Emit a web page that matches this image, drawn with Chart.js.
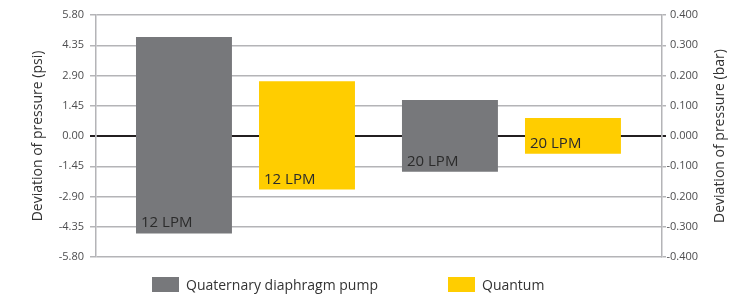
<!DOCTYPE html>
<html>
<head>
<meta charset="utf-8">
<script src="https://cdn.jsdelivr.net/npm/chart.js@4.4.1/dist/chart.umd.min.js"></script>
<style>
    html, body { margin: 0; padding: 0; background: #fff; }
    #wrap { position: relative; width: 741px; height: 296px; }
    #pressureChart { position: absolute; left: 0; top: 0; }
    .legend-item { position: absolute; top: 277px; height: 15px; display: flex; align-items: center;
        font-family: 'Open Sans', sans-serif; font-size: 14px; color: #333; white-space: nowrap; }
    .legend-box { width: 27px; height: 15px; margin-right: 7px; }
</style>
</head>
<body>
<div id="wrap">
    <canvas id="pressureChart" width="741" height="296"></canvas>
    <div id="chartLegend"></div>
</div>
<script>
// Data
const flowRates = ['12 LPM', '20 LPM'];
const groupPos = [0, 1];
const pumpLow = [-4.67, -1.71];
const pumpHigh = [4.74, 1.72];
const quantumLow = [-2.57, -0.85];
const quantumHigh = [2.63, 0.86];

const seriesNames = ['Quaternary diaphragm pump', 'Quantum'];
const seriesColors = ['#77787b', '#ffcd00'];

const psiTicks = [-5.80, -4.35, -2.90, -1.45, 0, 1.45, 2.90, 4.35, 5.80];
const psiLabels = ['-5.80', '-4.35', '-2.90', '-1.45', '0.00', '1.45', '2.90', '4.35', '5.80'];
const barTicks = [-0.4, -0.3, -0.2, -0.1, 0, 0.1, 0.2, 0.3, 0.4];
const barLabels = ['-0.400', '-0.300', '-0.200', '-0.100', '0.000', '0.100', '0.200', '0.300', '0.400'];

const gridGray = '#b4b4b7';
const zeroBlack = '#231f20';

Chart.defaults.font.family = "'Open Sans', sans-serif";

// Labels drawn at the lower-left corner of each bar
const barTextPlugin = {
    id: 'barText',
    afterDatasetsDraw(chart) {
        const ctx = chart.ctx;
        ctx.save();
        ctx.font = "15px 'Open Sans', sans-serif";
        ctx.fillStyle = '#2b2b2b';
        ctx.textAlign = 'left';
        ctx.textBaseline = 'alphabetic';
        chart.data.datasets.forEach((ds, di) => {
            const meta = chart.getDatasetMeta(di);
            meta.data.forEach((bar, i) => {
                const p = bar.getProps(['x', 'y', 'base', 'width'], true);
                const bottom = Math.max(p.y, p.base);
                ctx.fillText(flowRates[i], p.x - p.width / 2 + 5, bottom - 6);
            });
        });
        ctx.restore();
    }
};

// Right-hand title, reading bottom to top like the left one
const rightTitlePlugin = {
    id: 'rightTitle',
    afterDraw(chart) {
        const ctx = chart.ctx;
        const area = chart.chartArea;
        ctx.save();
        ctx.translate(720, (area.top + area.bottom) / 2);
        ctx.rotate(-Math.PI / 2);
        ctx.font = "14px 'Open Sans', sans-serif";
        ctx.fillStyle = '#333';
        ctx.textAlign = 'center';
        ctx.textBaseline = 'middle';
        ctx.fillText('Deviation of pressure (bar)', 0, 0);
        ctx.restore();
    }
};

const gridColor = c => (c.tick && c.tick.value === 0 ? zeroBlack : gridGray);
const gridWidth = c => (c.tick && c.tick.value === 0 ? 2 : 1.5);

new Chart(document.getElementById('pressureChart'), {
    type: 'bar',
    data: {
        datasets: [
            {
                label: seriesNames[0],
                data: groupPos.map((x, i) => ({ x: x, y: [pumpLow[i], pumpHigh[i]] })),
                backgroundColor: seriesColors[0],
                borderWidth: 0,
                categoryPercentage: 0.925,
                barPercentage: 0.78,
                yAxisID: 'y'
            },
            {
                label: seriesNames[1],
                data: groupPos.map((x, i) => ({ x: x, y: [quantumLow[i], quantumHigh[i]] })),
                backgroundColor: seriesColors[1],
                borderWidth: 0,
                categoryPercentage: 0.925,
                barPercentage: 0.78,
                yAxisID: 'y'
            }
        ]
    },
    options: {
        responsive: false,
        animation: false,
        devicePixelRatio: 1,
        layout: { padding: { top: 15, bottom: 39, left: 0, right: 43 } },
        plugins: {
            legend: { display: false },
            tooltip: { enabled: false }
        },
        scales: {
            x: {
                type: 'linear',
                display: false,
                offset: false,
                min: -0.562,
                max: 1.566,
                afterBuildTicks: s => { s.ticks = groupPos.map(v => ({ value: v })); }
            },
            y: {
                position: 'left',
                min: -5.8,
                max: 5.8,
                afterBuildTicks: s => { s.ticks = psiTicks.map(v => ({ value: v })); },
                afterFit: s => { s.width = 96; },
                ticks: {
                    padding: 6,
                    color: '#4d4d4f',
                    font: { size: 11 },
                    callback: (v, i) => psiLabels[i]
                },
                grid: {
                    color: gridColor,
                    lineWidth: gridWidth,
                    tickLength: 6
                },
                border: { display: true, color: gridGray, width: 1.5 },
                title: {
                    display: true,
                    text: 'Deviation of pressure (psi)',
                    color: '#333',
                    font: { size: 14 },
                    padding: { top: 29.6, bottom: 0 }
                }
            },
            y2: {
                position: 'right',
                min: -0.4,
                max: 0.4,
                afterBuildTicks: s => { s.ticks = barTicks.map(v => ({ value: v })); },
                afterFit: s => { s.width = 36; },
                ticks: {
                    padding: 0,
                    crossAlign: 'far',
                    color: '#4d4d4f',
                    font: { size: 11 },
                    callback: (v, i) => barLabels[i]
                },
                grid: {
                    drawOnChartArea: false,
                    color: gridColor,
                    lineWidth: gridWidth,
                    tickLength: 4
                },
                border: { display: true, color: gridGray, width: 1.5 }
            }
        }
    },
    plugins: [barTextPlugin, rightTitlePlugin]
});

// Legend under the plot
const legendX = [152, 448];
document.getElementById('chartLegend').innerHTML = seriesNames.map((name, i) => `
    <div class="legend-item" style="left:${legendX[i]}px">
        <div class="legend-box" style="background:${seriesColors[i]}"></div>${name}
    </div>`).join('');
</script>
</body>
</html>
